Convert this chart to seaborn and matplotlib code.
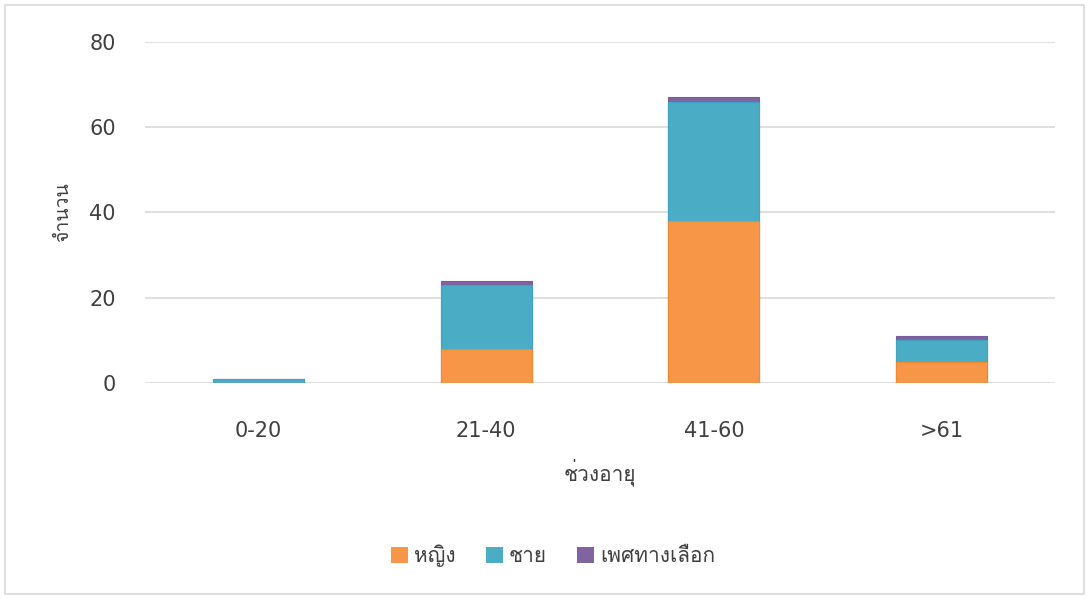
import matplotlib
matplotlib.use("Agg")
import matplotlib.pyplot as plt
from matplotlib import font_manager
from matplotlib.ft2font import FT2Font
import seaborn as sns
import pandas as pd
from matplotlib.patches import Patch

# Data: number of people by age range and gender
age_groups = ["0-20", "21-40", "41-60", ">61"]
female = [0, 8, 38, 5]
male = [1, 15, 28, 5]
alternative = [0, 1, 1, 1]
series_names = ["หญิง", "ชาย", "เพศทางเลือก"]
y_ticks = [0, 20, 40, 60, 80]

colors = ["#F79646", "#4BACC6", "#8064A2"]
edge_colors = ["#F08A2E", "#3FA3BF", "#7A5C9C"]
text_color = "#404040"


def thai_family():
    """Return the name of an installed font family that covers Thai script."""
    for entry in font_manager.fontManager.ttflist:
        try:
            cmap = FT2Font(entry.fname).get_charmap()
        except Exception:
            continue
        if ord("ก") in cmap and ord("ญ") in cmap:
            return entry.name
    return None


sns.set_theme(style="white")
thai = thai_family()
families = ["DejaVu Sans"] + ([thai] if thai else [])
plt.rcParams["font.family"] = families

df = pd.DataFrame({
    "age": age_groups,
    "female": female,
    "male": male,
    "alt": alternative,
})
df["female_male"] = df["female"] + df["male"]
df["total"] = df["female_male"] + df["alt"]

fig = plt.figure(figsize=(10.89, 5.99), dpi=100)
ax = fig.add_axes([0.133, 0.3606, 0.836, 0.5695])

# Stacked bars: draw cumulative totals back to front
bar_w = 0.40
for col, c, ec, z in [("total", colors[2], edge_colors[2], 3),
                      ("female_male", colors[1], edge_colors[1], 4),
                      ("female", colors[0], edge_colors[0], 5)]:
    sns.barplot(data=df, x="age", y=col, color=c, width=bar_w,
                saturation=1, ax=ax, zorder=z, edgecolor=ec, linewidth=0.8)

ax.set_ylim(0, 80)
ax.set_xlim(-0.5, 3.5)
ax.set_yticks(y_ticks)
ax.yaxis.grid(True, color="#D9D9D9", linewidth=1.2, zorder=0)
ax.set_axisbelow(True)
for side in ["top", "right", "left", "bottom"]:
    ax.spines[side].set_visible(False)
ax.tick_params(axis="both", length=0, labelsize=15, colors=text_color)
ax.tick_params(axis="y", pad=21)
ax.tick_params(axis="x", pad=27)

ax.set_ylabel("จำนวน", fontsize=14, color=text_color, labelpad=12)
ax.set_xlabel("ช่วงอายุ", fontsize=15, color=text_color, labelpad=14)

handles = [Patch(facecolor=c, edgecolor="none") for c in colors]
fig.legend(handles, series_names, loc="center", bbox_to_anchor=(0.508, 0.072),
           ncol=3, frameon=False, fontsize=15, handlelength=0.8,
           handleheight=0.8, handletextpad=0.3, columnspacing=1.45,
           labelcolor=text_color)

# Light border around the whole chart area
fig.patches.append(plt.Rectangle((0.005, 0.008), 0.99, 0.984,
                                 transform=fig.transFigure, fill=False,
                                 edgecolor="#D9D9D9", linewidth=1.2))

fig.savefig("out.png", dpi=100, facecolor="white")
